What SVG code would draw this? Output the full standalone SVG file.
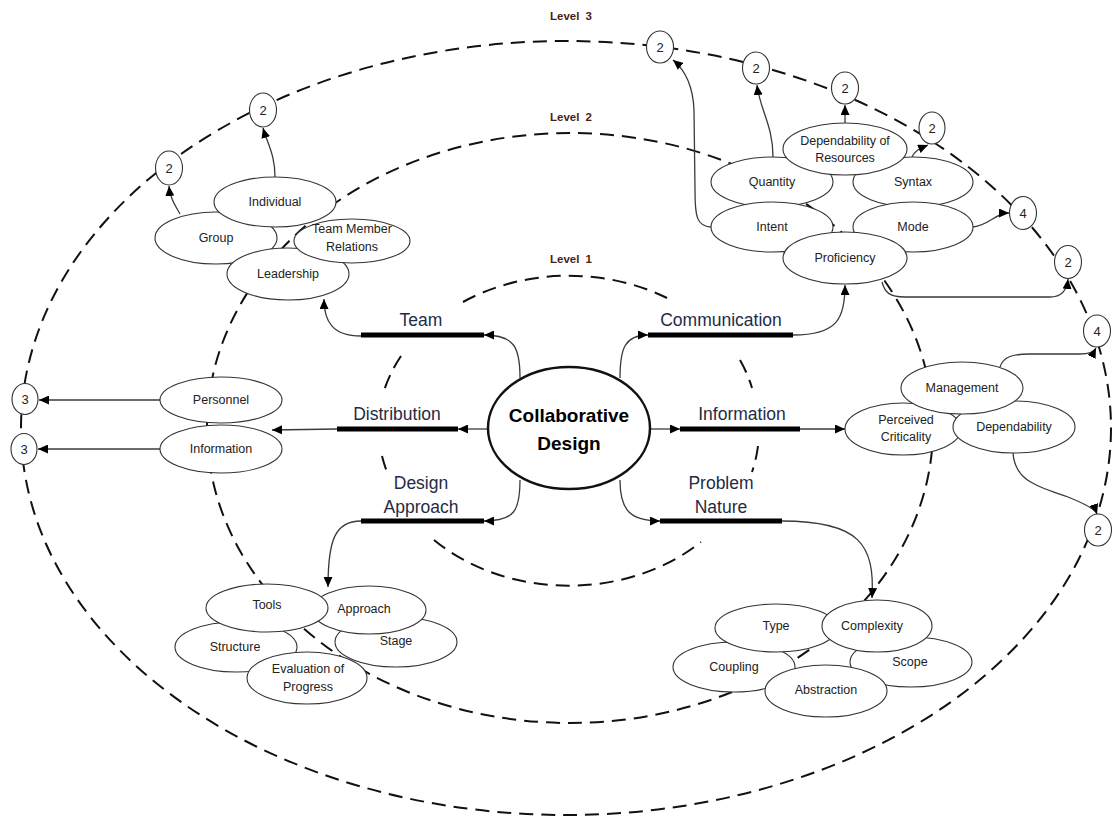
<svg xmlns="http://www.w3.org/2000/svg" width="1113" height="818" viewBox="0 0 1113 818">
<style>
.lvl{fill:none;stroke:#111;stroke-width:2;stroke-dasharray:14 8}
.nd{fill:#fff;stroke:#333;stroke-width:1.1}
.nt{font-family:"Liberation Sans",Arial,sans-serif;font-size:12.5px;fill:#222;text-anchor:middle}
.num{font-family:"Liberation Sans",Arial,sans-serif;font-size:13px;fill:#222;text-anchor:middle}
.br{font-family:"Liberation Sans",Arial,sans-serif;font-size:17.5px;fill:#1f2b46;text-anchor:middle}
.bar{stroke:#000;stroke-width:5}
.cn{fill:none;stroke:#3a3a3a;stroke-width:1.3;marker-end:url(#ah)}
.lv{font-family:"Liberation Sans",Arial,sans-serif;font-size:11.5px;font-weight:bold;fill:#4a1f12;text-anchor:middle;word-spacing:3px}
</style>
<defs>
<marker id="ah" markerUnits="userSpaceOnUse" markerWidth="11" markerHeight="9" refX="10" refY="4.5" orient="auto"><path d="M0,0 L10,4.5 L0,9 z" fill="#000"/></marker>
</defs>
<rect width="1113" height="818" fill="#fff"/>
<g id="levels">
<ellipse class="lvl" cx="566" cy="428" rx="545" ry="387"/>
<ellipse class="lvl" cx="570" cy="428" rx="363" ry="295"/>
<path class="lvl" d="M463,302 A190,155 0 0 1 667,298"/>
<path class="lvl" d="M740,360 A190,155 0 0 1 752,388"/>
<path class="lvl" d="M758,446 A190,155 0 0 1 752,472"/>
<path class="lvl" d="M401,356 A190,155 0 0 0 383,394"/>
<path class="lvl" d="M382,456 A190,155 0 0 0 387,472"/>
<path class="lvl" d="M434,540 A190,155 0 0 0 701,542"/>
<text class="lv" x="571" y="20">Level 3</text>
<text class="lv" x="571" y="121">Level 2</text>
<text class="lv" x="571" y="263">Level 1</text>
</g>
<g id="connectors">
<path class="cn" d="M520,378 C520,348 515,335 484,335"/>
<path class="cn" d="M361,336 C333,336 324,322 324,299"/>
<path class="cn" d="M620,378 C620,348 625,335 648,335"/>
<path class="cn" d="M793,335 C838,335 845,318 845,285"/>
<path class="cn" d="M488,429 L458,429"/>
<path class="cn" d="M337,429 L272,430"/>
<path class="cn" d="M650,429 L680,429"/>
<path class="cn" d="M800,429 L845,429"/>
<path class="cn" d="M520,480 C520,510 515,521 484,521"/>
<path class="cn" d="M361,521 C335,521 328,540 328,587"/>
<path class="cn" d="M620,480 C620,510 630,521 660,521"/>
<path class="cn" d="M782,521 C860,521 875,545 872,598"/>
<path class="cn" d="M275,177 C275,155 268,145 263,128"/>
<path class="cn" d="M180,214 C175,205 170,198 169,186"/>
<path class="cn" d="M160,400 L39,400"/>
<path class="cn" d="M160,449 L38,449"/>
<path class="cn" d="M712,227 C696,227 695,215 695,190 L694,110 C693,85 685,70 673,60"/>
<path class="cn" d="M773,157 C773,125 760,110 757,85"/>
<path class="cn" d="M845,123 L845,105"/>
<path class="cn" d="M912,157 C915,150 921,148 928,145"/>
<path class="cn" d="M973,227 C990,225 995,213 1009,213"/>
<path class="cn" d="M882,282 C885,293 890,297 905,297 L1050,297 C1062,297 1067,290 1068,279"/>
<path class="cn" d="M1000,367 C1003,357 1012,354 1030,354 L1080,354 C1090,354 1094,352 1096,348"/>
<path class="cn" d="M1013,453 C1015,482 1040,487 1068,497 C1088,505 1096,511 1097,514"/>
</g>
<g id="bars">
<line class="bar" x1="361" y1="335" x2="484" y2="335"/>
<line class="bar" x1="648" y1="335" x2="793" y2="335"/>
<line class="bar" x1="337" y1="429" x2="458" y2="429"/>
<line class="bar" x1="680" y1="429" x2="800" y2="429"/>
<line class="bar" x1="361" y1="521" x2="484" y2="521"/>
<line class="bar" x1="660" y1="521" x2="782" y2="521"/>
</g>
<g id="center">
<ellipse cx="569" cy="428" rx="81" ry="61" fill="#fff" stroke="#111" stroke-width="2.5"/>
<text x="569" y="422" font-family="'Liberation Sans',Arial,sans-serif" font-size="19" font-weight="bold" fill="#000" text-anchor="middle">Collaborative</text>
<text x="569" y="450" font-family="'Liberation Sans',Arial,sans-serif" font-size="19" font-weight="bold" fill="#000" text-anchor="middle">Design</text>
</g>
<g id="branch-labels">
<text class="br" x="421" y="326">Team</text>
<text class="br" x="721" y="326">Communication</text>
<text class="br" x="397" y="420">Distribution</text>
<text class="br" x="742" y="420">Information</text>
<text class="br" x="421" y="489">Design</text>
<text class="br" x="421" y="513">Approach</text>
<text class="br" x="721" y="489">Problem</text>
<text class="br" x="721" y="513">Nature</text>
</g>
<g id="team-nodes">
<g id="n-group"><ellipse class="nd" cx="216" cy="238" rx="61" ry="26"/><text class="nt" x="216" y="242">Group</text></g>
<g id="n-individual"><ellipse class="nd" cx="275" cy="202" rx="61" ry="25"/><text class="nt" x="275" y="206">Individual</text></g>
<g id="n-leadership"><ellipse class="nd" cx="288" cy="274" rx="61" ry="26"/><text class="nt" x="288" y="278">Leadership</text></g>
<g id="n-tmr"><ellipse class="nd" cx="352" cy="241" rx="58" ry="22"/><text class="nt" x="352" y="233">Team Member</text><text class="nt" x="352" y="251">Relations</text></g>
</g>
<g id="comm-nodes">
<g id="n-quantity"><ellipse class="nd" cx="772" cy="182" rx="61" ry="25"/><text class="nt" x="772" y="186">Quantity</text></g>
<g id="n-syntax"><ellipse class="nd" cx="913" cy="182" rx="60" ry="25"/><text class="nt" x="913" y="186">Syntax</text></g>
<g id="n-intent"><ellipse class="nd" cx="772" cy="227" rx="61" ry="25"/><text class="nt" x="772" y="231">Intent</text></g>
<g id="n-mode"><ellipse class="nd" cx="913" cy="227" rx="60" ry="25"/><text class="nt" x="913" y="231">Mode</text></g>
<g id="n-depres"><ellipse class="nd" cx="845" cy="149" rx="62" ry="26"/><text class="nt" x="845" y="145">Dependability of</text><text class="nt" x="845" y="162">Resources</text></g>
<g id="n-proficiency"><ellipse class="nd" cx="845" cy="258" rx="62" ry="26"/><text class="nt" x="845" y="262">Proficiency</text></g>
</g>
<g id="info-nodes">
<g id="n-perceived"><ellipse class="nd" cx="903" cy="429" rx="58" ry="26"/><text class="nt" x="906" y="424">Perceived</text><text class="nt" x="906" y="441">Criticality</text></g>
<g id="n-dependability"><ellipse class="nd" cx="1014" cy="427" rx="61" ry="26"/><text class="nt" x="1014" y="431">Dependability</text></g>
<g id="n-management"><ellipse class="nd" cx="962" cy="388" rx="61" ry="26"/><text class="nt" x="962" y="392">Management</text></g>
</g>
<g id="dist-nodes">
<g id="n-personnel"><ellipse class="nd" cx="221" cy="400" rx="61" ry="23"/><text class="nt" x="221" y="404">Personnel</text></g>
<g id="n-information"><ellipse class="nd" cx="221" cy="449" rx="61" ry="24"/><text class="nt" x="221" y="453">Information</text></g>
</g>
<g id="approach-nodes">
<g id="n-structure"><ellipse class="nd" cx="236" cy="647" rx="61" ry="25"/><text class="nt" x="235" y="651">Structure</text></g>
<g id="n-stage"><ellipse class="nd" cx="396" cy="642" rx="61" ry="25"/><text class="nt" x="396" y="645">Stage</text></g>
<g id="n-approach"><ellipse class="nd" cx="369" cy="610" rx="57" ry="24"/><text class="nt" x="364" y="613">Approach</text></g>
<g id="n-tools"><ellipse class="nd" cx="267" cy="608" rx="61" ry="24"/><text class="nt" x="267" y="609">Tools</text></g>
<g id="n-evaluation"><ellipse class="nd" cx="307" cy="678" rx="60" ry="26"/><text class="nt" x="308" y="673">Evaluation of</text><text class="nt" x="308" y="691">Progress</text></g>
</g>
<g id="problem-nodes">
<g id="n-coupling"><ellipse class="nd" cx="734" cy="667" rx="61" ry="25"/><text class="nt" x="734" y="671">Coupling</text></g>
<g id="n-scope"><ellipse class="nd" cx="911" cy="662" rx="61" ry="25"/><text class="nt" x="910" y="666">Scope</text></g>
<g id="n-type"><ellipse class="nd" cx="776" cy="628" rx="61" ry="24"/><text class="nt" x="776" y="630">Type</text></g>
<g id="n-complexity"><ellipse class="nd" cx="877" cy="626" rx="55" ry="26"/><text class="nt" x="872" y="630">Complexity</text></g>
<g id="n-abstraction"><ellipse class="nd" cx="826" cy="691" rx="61" ry="26"/><text class="nt" x="826" y="694">Abstraction</text></g>
</g>
<g id="level3-markers">
<g id="m1"><ellipse class="nd" cx="169" cy="168" rx="13.5" ry="17"/><text class="num" x="169" y="173">2</text></g>
<g id="m2"><ellipse class="nd" cx="263" cy="110" rx="13.5" ry="17"/><text class="num" x="263" y="115">2</text></g>
<g id="m3"><ellipse class="nd" cx="660" cy="47" rx="13.5" ry="16"/><text class="num" x="660" y="52">2</text></g>
<g id="m4"><ellipse class="nd" cx="756" cy="68" rx="13.5" ry="16"/><text class="num" x="756" y="73">2</text></g>
<g id="m5"><ellipse class="nd" cx="845" cy="88" rx="13.5" ry="16"/><text class="num" x="845" y="93">2</text></g>
<g id="m6"><ellipse class="nd" cx="932" cy="128" rx="13" ry="16"/><text class="num" x="932" y="133">2</text></g>
<g id="m7"><ellipse class="nd" cx="1023" cy="213" rx="13.5" ry="16.5"/><text class="num" x="1023" y="218">4</text></g>
<g id="m8"><ellipse class="nd" cx="1068" cy="262" rx="13.5" ry="16.5"/><text class="num" x="1068" y="267">2</text></g>
<g id="m9"><ellipse class="nd" cx="1097" cy="331" rx="13.5" ry="16"/><text class="num" x="1097" y="336">4</text></g>
<g id="m10"><ellipse class="nd" cx="1098" cy="530" rx="13.5" ry="16"/><text class="num" x="1098" y="535">2</text></g>
<g id="m11"><ellipse class="nd" cx="25" cy="399" rx="13" ry="15.5"/><text class="num" x="25" y="404">3</text></g>
<g id="m12"><ellipse class="nd" cx="24" cy="449" rx="13" ry="15.5"/><text class="num" x="24" y="454">3</text></g>
</g>
</svg>
